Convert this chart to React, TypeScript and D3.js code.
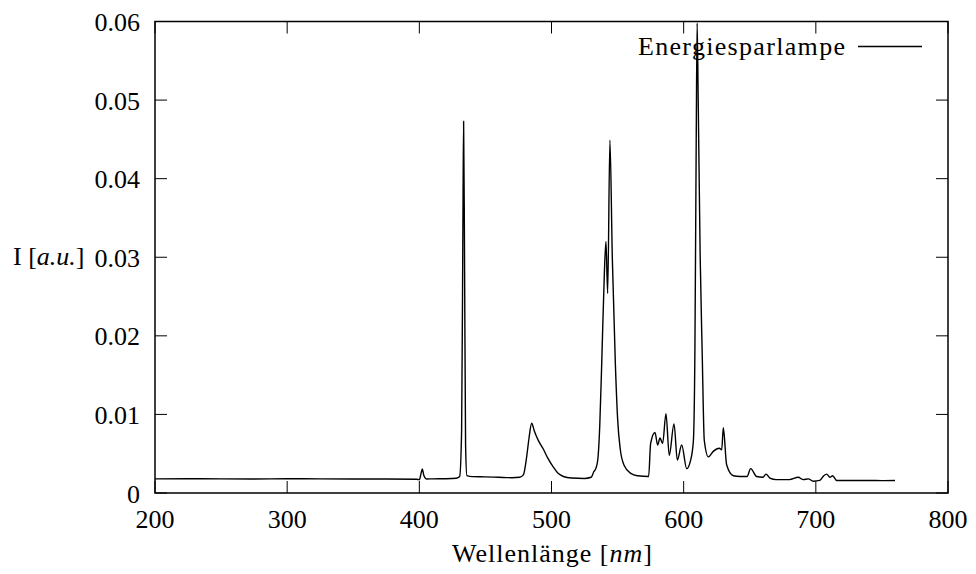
import React from "react";
import * as d3 from "d3";

const wavelengths = [
  200, 225, 250, 275, 300, 325, 350, 375, 398, 400, 401.2, 402.2, 403.5, 405.6, 410, 420, 428,
  430.5, 432, 433, 433.5, 434.2, 435, 436, 440, 450, 460, 470, 476, 478.7, 481.2, 483, 485, 487,
  490, 493.8, 497, 501.4, 505, 509, 515, 525, 530, 532, 533.5, 535, 536.5, 538, 540, 541.2, 542.5,
  544.2, 546, 548.3, 550, 552, 555, 560, 565, 573.5, 575, 578.3, 580.3, 582.1, 584.1, 586.6, 589.1,
  592.7, 595.2, 598.5, 602.3, 605, 607.3, 608.5, 609.5, 610.2, 611, 612.5, 614, 615.6, 618.7, 622.4,
  627, 628.8, 630, 632.5, 637.6, 642.6, 648, 650.7, 655.2, 660, 662.3, 665.3, 670, 680, 686.7,
  690.5, 694.3, 698, 703, 706, 708.2, 710.7, 712.7, 715.8, 725, 740, 750, 759.9,
];
const intensity = [
  0.0018, 0.00182, 0.0018, 0.00179, 0.00181, 0.0018, 0.00179, 0.00178, 0.00175, 0.0017, 0.0024,
  0.00305, 0.0022, 0.00178, 0.0018, 0.00182, 0.00188, 0.0021, 0.008, 0.035, 0.0473, 0.03, 0.006,
  0.0022, 0.00208, 0.00205, 0.002, 0.00195, 0.002, 0.0023, 0.0046, 0.007, 0.00887, 0.0079, 0.0067,
  0.0056, 0.0045, 0.0033, 0.0025, 0.0021, 0.0019, 0.00185, 0.002, 0.0027, 0.0031, 0.0042, 0.0085,
  0.0165, 0.028, 0.032, 0.0254, 0.0449, 0.03, 0.0165, 0.0095, 0.0056, 0.0035, 0.0025, 0.0022,
  0.0021, 0.0063, 0.0077, 0.0061, 0.007, 0.0063, 0.0101, 0.0048, 0.0088, 0.0042, 0.0061, 0.0031,
  0.004, 0.0065, 0.018, 0.045, 0.0598, 0.05, 0.03, 0.018, 0.0067, 0.0046, 0.0053, 0.0057, 0.0055,
  0.0083, 0.0036, 0.0022, 0.0021, 0.0021, 0.0031, 0.0021, 0.002, 0.0024, 0.0019, 0.0017, 0.0017,
  0.002, 0.0017, 0.0018, 0.0015, 0.0016, 0.0022, 0.0024, 0.002, 0.0022, 0.0016, 0.0016, 0.0016,
  0.00158, 0.0016,
];
const xTicks = [200, 300, 400, 500, 600, 700, 800];
const yTicks = [0, 0.01, 0.02, 0.03, 0.04, 0.05, 0.06];
const yTickLabels = ["0", "0.01", "0.02", "0.03", "0.04", "0.05", "0.06"];
const seriesName = "Energiesparlampe";

const W = 976;
const H = 574;
const L = 155;
const R = 948;
const T = 21.5;
const B = 493;
const FONT = "'Liberation Serif', 'Times New Roman', serif";
const FS = 26;
const TICK = 12;

export default function App() {
  const x = d3.scaleLinear().domain([200, 800]).range([L, R]);
  const y = d3.scaleLinear().domain([0, 0.06]).range([B, T]);
  const data = wavelengths.map((w, i) => [w, intensity[i]] as [number, number]);
  const line = d3
    .line<[number, number]>()
    .x((d) => x(d[0]))
    .y((d) => y(d[1]))
    .curve(d3.curveMonotoneX);

  return (
    <svg
      width={W}
      height={H}
      style={{ position: "absolute", left: 0, top: 0, background: "#fff" }}
      fontFamily={FONT}
      fontSize={FS}
    >
      <defs>
        <clipPath id="plotclip">
          <rect x={L} y={T} width={R - L} height={B - T} />
        </clipPath>
      </defs>
      <rect x={0} y={0} width={W} height={H} fill="#fff" />
      {xTicks.map((t) => (
        <g key={"xt" + t}>
          <line x1={x(t)} x2={x(t)} y1={B} y2={B - TICK} stroke="#000" strokeWidth={1} />
          <line x1={x(t)} x2={x(t)} y1={T} y2={T + TICK} stroke="#000" strokeWidth={1} />
          <text x={x(t)} y={B + 35} textAnchor="middle" fill="#000">
            {t}
          </text>
        </g>
      ))}
      {yTicks.map((t, i) => (
        <g key={"yt" + t}>
          <line x1={L} x2={L + TICK} y1={y(t)} y2={y(t)} stroke="#000" strokeWidth={1} />
          <line x1={R} x2={R - TICK} y1={y(t)} y2={y(t)} stroke="#000" strokeWidth={1} />
          <text x={140} y={y(t) + 9.5} textAnchor="end" fill="#000">
            {yTickLabels[i]}
          </text>
        </g>
      ))}
      <path
        d={line(data) || ""}
        fill="none"
        stroke="#000"
        strokeWidth={1.4}
        strokeLinejoin="round"
        clipPath="url(#plotclip)"
      />
      <rect x={L} y={T} width={R - L} height={B - T} fill="none" stroke="#000" strokeWidth={1.5} />
      <text x={638} y={55} textAnchor="start" fill="#000" textLength={207} lengthAdjust="spacing">
        {seriesName}
      </text>
      <line x1={858} x2={922} y1={46.5} y2={46.5} stroke="#000" strokeWidth={1.3} />
      <text x={452} y={562} textAnchor="start" fill="#000" textLength={200} lengthAdjust="spacing">
        Wellenlänge [<tspan fontStyle="italic">nm</tspan>]
      </text>
      <text x={13} y={265} textAnchor="start" fill="#000">
        I [<tspan fontStyle="italic">a.u.</tspan>]
      </text>
    </svg>
  );
}
